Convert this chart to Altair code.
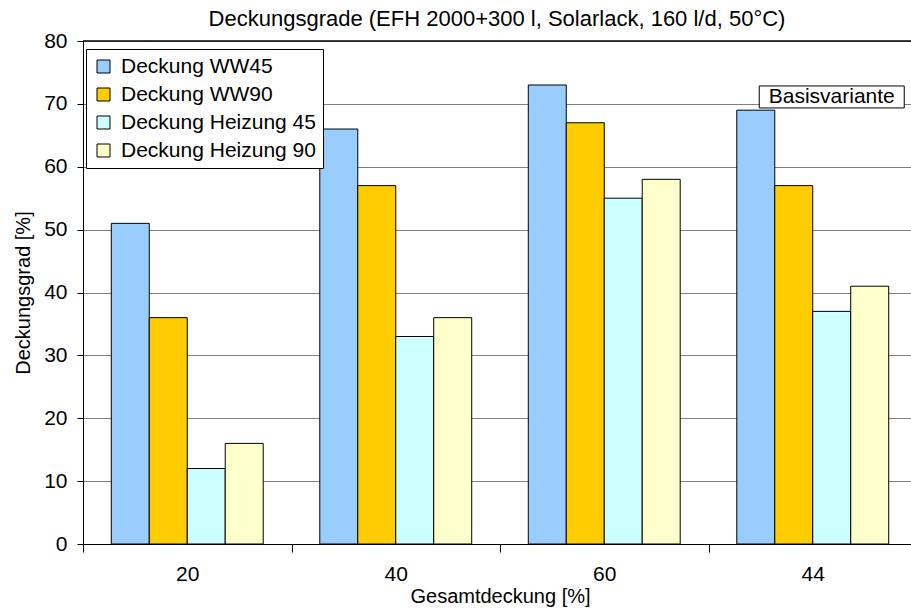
import altair as alt
import pandas as pd

categories = ["20", "40", "60", "44"]
series = ["Deckung WW45", "Deckung WW90", "Deckung Heizung 45", "Deckung Heizung 90"]
ww45 = [51, 66, 73, 69]
ww90 = [36, 57, 67, 57]
hz45 = [12, 33, 55, 37]
hz90 = [16, 36, 58, 41]
colors = ["#99CCFF", "#FFCC00", "#CCFFFF", "#FFFFCC"]
y_ticks = [0, 10, 20, 30, 40, 50, 60, 70, 80]

rows = []
for name, vals in zip(series, [ww45, ww90, hz45, hz90]):
    for c, v in zip(categories, vals):
        rows.append({"Gesamtdeckung": c, "Serie": name, "Wert": v})
df = pd.DataFrame(rows)

note = pd.DataFrame({"Gesamtdeckung": ["44"], "Serie": ["Deckung Heizung 45"],
                     "Wert": [71.1], "Text": ["Basisvariante"]})
top = pd.DataFrame({"Wert": [80]})

FONT = "Liberation Sans"
x_scale = alt.Scale(domain=categories, range=[0, 834], paddingInner=0, paddingOuter=0)
xo_scale = alt.Scale(domain=series, paddingInner=0, paddingOuter=0.745)
y_scale = alt.Scale(domain=[0, 80], nice=False)

x_enc = alt.X("Gesamtdeckung:N", scale=x_scale, sort=categories,
              axis=alt.Axis(title="Gesamtdeckung [%]", labelAngle=0, tickBand="extent",
                            tickSize=8, labelPadding=11, titlePadding=2, grid=False))
xo_enc = alt.XOffset("Serie:N", scale=xo_scale, sort=series)
y_enc = alt.Y("Wert:Q", scale=y_scale,
              axis=alt.Axis(title="Deckungsgrad [%]", values=y_ticks, grid=True,
                            gridColor="#808080", tickSize=6, labelPadding=10,
                            titlePadding=10))

bars = alt.Chart(df).mark_bar(stroke="black", strokeWidth=1, opacity=1).encode(
    x=x_enc,
    xOffset=xo_enc,
    y=y_enc,
    color=alt.Color("Serie:N", scale=alt.Scale(domain=series, range=colors), sort=series,
                    legend=alt.Legend(title=None, orient="none", legendX=3, legendY=8,
                                      strokeColor="black", fillColor="white", padding=7,
                                      symbolType="square", symbolSize=169,
                                      symbolStrokeColor="black", symbolStrokeWidth=1,
                                      symbolOpacity=1, labelFont=FONT, labelFontSize=21,
                                      labelColor="black", rowPadding=6, labelOffset=7,
                                      labelLimit=400)),
)

top_rule = alt.Chart(top).mark_rule(color="black", strokeWidth=1.5).encode(
    y=alt.Y("Wert:Q", scale=y_scale))

box_path = "M-1,-0.1517L1,-0.1517L1,0.1517L-1,0.1517Z"
note_box = alt.Chart(note).mark_point(shape=box_path, size=21025, filled=True,
                                      fill="white", stroke="black", strokeWidth=1,
                                      opacity=1).encode(
    x=alt.X("Gesamtdeckung:N", scale=x_scale, sort=categories),
    xOffset=alt.XOffset("Serie:N", scale=xo_scale, sort=series),
    y=alt.Y("Wert:Q", scale=y_scale),
)
note_text = alt.Chart(note).mark_text(font=FONT, fontSize=21, color="black",
                                      align="center", baseline="middle").encode(
    x=alt.X("Gesamtdeckung:N", scale=x_scale, sort=categories),
    xOffset=alt.XOffset("Serie:N", scale=xo_scale, sort=series),
    y=alt.Y("Wert:Q", scale=y_scale),
    text="Text:N",
)

chart = alt.layer(bars, top_rule, note_box, note_text).properties(
    width=828, height=503,
    title=alt.TitleParams("Deckungsgrade (EFH 2000+300 l, Solarlack, 160 l/d, 50°C)",
                          font=FONT, fontSize=22, fontWeight="normal", color="black",
                          anchor="middle", frame="group", offset=4, dy=5),
    autosize=alt.AutoSizeParams(type="none"),
    padding={"left": 83, "top": 41, "right": 0, "bottom": 66},
).configure_view(stroke=None).configure_axis(
    domainColor="black", tickColor="black", labelColor="black", labelFont=FONT,
    labelFontSize=21, titleFont=FONT, titleFontSize=20, titleFontWeight="normal",
    titleColor="black",
)

chart.save("out.html", embed_options={"renderer": "svg", "actions": False})
